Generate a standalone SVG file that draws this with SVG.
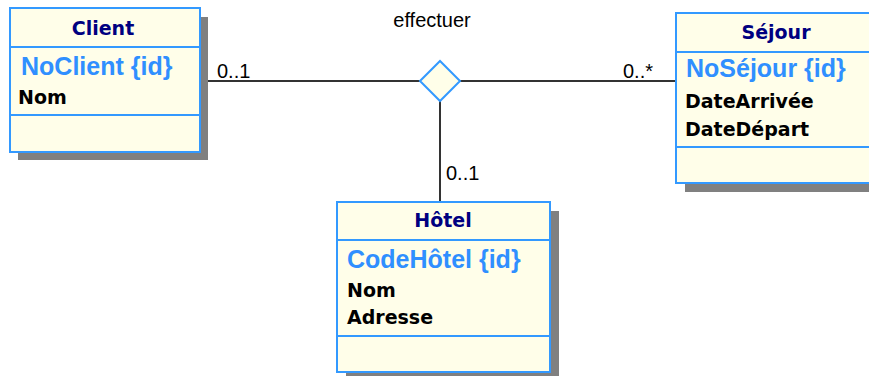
<svg xmlns="http://www.w3.org/2000/svg" width="869" height="376" viewBox="0 0 869 376">
<style>
.shadow{fill:#808080;}
.box{fill:#FFFEE9;stroke:#3399FF;stroke-width:2;}
.div{stroke:#3399FF;stroke-width:2;}
.title{font-family:"DejaVu Sans",sans-serif;font-weight:bold;font-size:19px;fill:#000080;text-anchor:middle;}
.id{font-family:"Liberation Sans",Arial,sans-serif;font-weight:bold;font-size:25px;fill:#2F8FFF;}
.attr{font-family:"DejaVu Sans",sans-serif;font-weight:bold;font-size:19px;fill:#000000;}
.lbl{font-family:"Liberation Sans",Arial,sans-serif;font-size:20px;fill:#000000;}
.line{stroke:#333333;stroke-width:2;fill:none;}
</style>
<rect width="869" height="376" fill="#FFFFFF"/>
<g id="connectors">
<line class="line" x1="208" y1="81" x2="420" y2="81"/>
<line class="line" x1="460" y1="81" x2="676" y2="81"/>
<line class="line" x1="440" y1="101" x2="440" y2="202"/>
<text class="lbl" x="217" y="78">0..1</text>
<text class="lbl" x="623" y="78">0..*</text>
<text class="lbl" x="446" y="180">0..1</text>
</g>
<g id="effectuer">
<polygon points="420,81 440,61 460,81 440,101" fill="#FFFEE9" stroke="#3399FF" stroke-width="2"/>
<text class="lbl" x="432" y="27" text-anchor="middle" font-size="22">effectuer</text>
</g>
<g id="client">
<rect class="shadow" x="18" y="17" width="190" height="143"/>
<rect class="box" x="10" y="8" width="190" height="144"/>
<line class="div" x1="10" y1="47" x2="200" y2="47"/>
<line class="div" x1="10" y1="115" x2="200" y2="115"/>
<text class="title" x="103" y="35">Client</text>
<text class="id" x="21" y="75">NoClient {id}</text>
<text class="attr" x="18" y="104">Nom</text>
</g>
<g id="sejour">
<rect class="shadow" x="685" y="22" width="200" height="170"/>
<rect class="box" x="676" y="13" width="200" height="170"/>
<line class="div" x1="676" y1="52" x2="876" y2="52"/>
<line class="div" x1="676" y1="147" x2="876" y2="147"/>
<text class="title" x="776" y="39">Séjour</text>
<text class="id" x="686" y="77">NoSéjour {id}</text>
<text class="attr" x="685" y="108">DateArrivée</text>
<text class="attr" x="685" y="136">DateDépart</text>
</g>
<g id="hotel">
<rect class="shadow" x="346" y="211" width="213" height="170"/>
<rect class="box" x="337" y="202" width="213" height="170"/>
<line class="div" x1="337" y1="240" x2="550" y2="240"/>
<line class="div" x1="337" y1="336" x2="550" y2="336"/>
<text class="title" x="443" y="227">Hôtel</text>
<text class="id" x="347" y="268">CodeHôtel {id}</text>
<text class="attr" x="347" y="297">Nom</text>
<text class="attr" x="347" y="324">Adresse</text>
</g>
</svg>
